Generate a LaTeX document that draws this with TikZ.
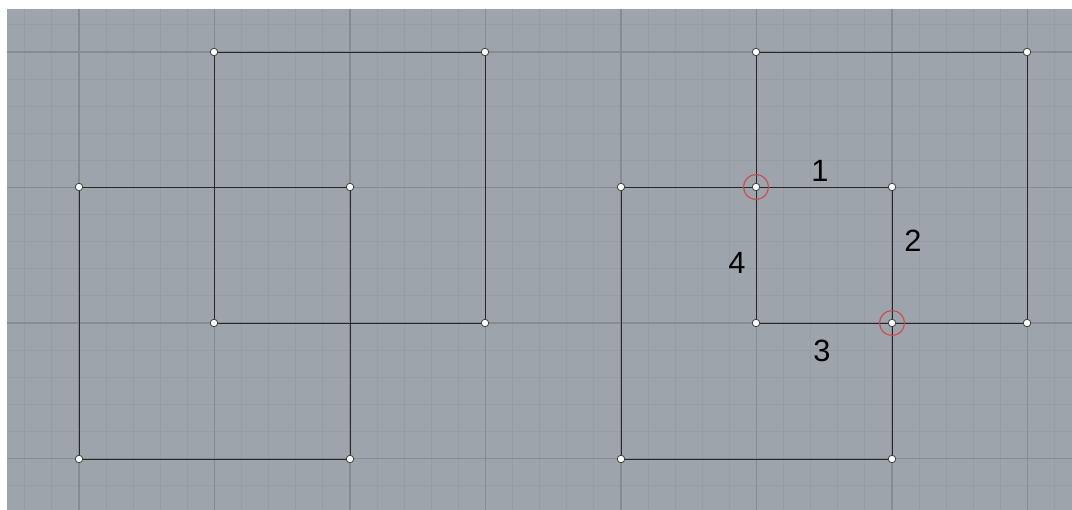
\documentclass[tikz,border=0pt]{standalone}
\usepackage{fontspec}
\setmainfont{Liberation Sans}
\usetikzlibrary{positioning}
\definecolor{bgrey}{HTML}{9EA4AB}
\definecolor{minorgrid}{HTML}{979DA4}
\definecolor{majorgrid}{HTML}{858C94}
\definecolor{hitred}{HTML}{D0454A}

\begin{document}
\begin{tikzpicture}[
    x=0.02cm,y=-0.02cm,
    corner/.style={circle,draw=black!75,fill=white,line width=0.45pt,inner sep=0pt,minimum size=0.15cm},
    side/.style={draw=black!85,line width=0.55pt},
    hit/.style={circle,draw=hitred,line width=0.6pt,inner sep=0pt,minimum size=0.5cm},
    num/.style={font=\fontsize{17.5}{20}\selectfont,text=black,inner sep=0pt},
]
\useasboundingbox (0,0) rectangle (1072,510);
\fill[white] (0,0) rectangle (1072,510);
\fill[bgrey] (7,9) rectangle (1072,510);
% grid
\begin{scope}
\clip (7,9) rectangle (1072,510);
\foreach \i in {0,...,39}
  \draw[minorgrid,line width=0.55pt] (24.8+27.1*\i,9) -- (24.8+27.1*\i,510);
\foreach \i in {0,...,18}
  \draw[minorgrid,line width=0.55pt] (7,24.9+27.1*\i) -- (1072,24.9+27.1*\i);
\foreach \j in {0,...,7}
  \draw[majorgrid,line width=0.6pt] (79+135.5*\j,9) -- (79+135.5*\j,510);
\foreach \j in {0,...,3}
  \draw[majorgrid,line width=0.6pt] (7,52+135.5*\j) -- (1072,52+135.5*\j);
\end{scope}

% left pair
\path (79,187)  coordinate (a1) (350,187) coordinate (a2)
      (350,459) coordinate (a3) (79,459)  coordinate (a4)
      (214,52)  coordinate (b1) (485,52)  coordinate (b2)
      (485,323) coordinate (b3) (214,323) coordinate (b4);
\draw[side] (a1) -- (a2) -- (a3) -- (a4) -- cycle;
\draw[side] (b1) -- (b2) -- (b3) -- (b4) -- cycle;
\foreach \p in {a1,a2,a3,a4,b1,b2,b3,b4}
  \node[corner] (n\p) at (\p) {};

% right pair
\path (621,187)  coordinate (c1) (892,187) coordinate (c2)
      (892,459)  coordinate (c3) (621,459) coordinate (c4)
      (756,52)   coordinate (d1) (1027,52) coordinate (d2)
      (1027,323) coordinate (d3) (756,323) coordinate (d4)
      (756,187)  coordinate (x1) (892,323) coordinate (x2);
\draw[side] (c1) -- (c2) -- (c3) -- (c4) -- cycle;
\draw[side] (d1) -- (d2) -- (d3) -- (d4) -- cycle;
\node[hit] (h1) at (x1) {};
\node[hit] (h2) at (x2) {};
\foreach \p in {c1,c2,c3,c4,d1,d2,d3,d4,x1,x2}
  \node[corner] (n\p) at (\p) {};

% edge numbers
\node[num] (lab1) at (820,171) {1};
\node[num] (lab2) at (913,241) {2};
\node[num] (lab3) at (822,351) {3};
\node[num] (lab4) at (737,263) {4};
\end{tikzpicture}
\end{document}
